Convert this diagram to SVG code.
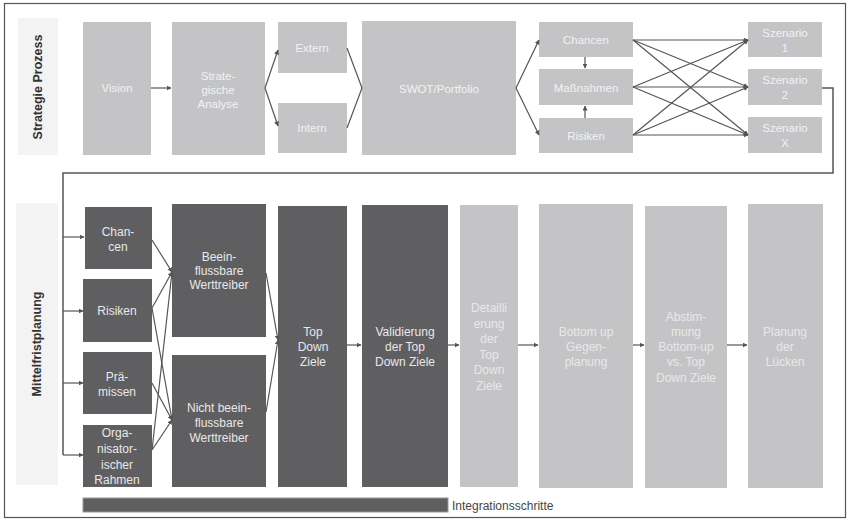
<svg xmlns="http://www.w3.org/2000/svg" width="849" height="521" viewBox="0 0 849 521">
<defs>
<marker id="ah" viewBox="0 0 10 10" refX="9" refY="5" markerWidth="5" markerHeight="5" orient="auto" markerUnits="userSpaceOnUse">
<path d="M0,0 L10,5 L0,10 z" fill="#555"/>
</marker>
</defs>
<style>
.lab{fill:#f3f3f3}
.lt{fill:#c4c4c6}
.dk{fill:#5f5f61}
text{font-family:"Liberation Sans",Arial,sans-serif;text-anchor:middle}
.tl{fill:#f2f2f2;font-size:11.5px}
.td{fill:#e8e8e8;font-size:12px}
.tlab{fill:#333;font-size:12.5px;font-weight:bold}
.c{fill:none;stroke:#555;stroke-width:1.2}
.ca{fill:none;stroke:#555;stroke-width:1.2;marker-end:url(#ah)}
.loop{fill:none;stroke:#555;stroke-width:1.5}
</style>
<rect x="0" y="0" width="849" height="521" fill="#fff"/>
<rect x="4.5" y="3.5" width="841" height="514" fill="none" stroke="#555" stroke-width="1.2"/>

<g id="label-strategie"><rect class="lab" x="18" y="18" width="40" height="137"/><text class="tlab" transform="translate(42,87) rotate(-90)">Strategie Prozess</text></g>
<g id="vision"><rect class="lt" x="83" y="22" width="68" height="133"/><text class="tl" x="117" y="92">Vision</text></g>
<g id="analyse"><rect class="lt" x="172" y="22" width="93" height="133"/><text class="tl" x="218" y="80">Strate-</text><text class="tl" x="218" y="94">gische</text><text class="tl" x="218" y="108">Analyse</text></g>
<g id="extern"><rect class="lt" x="278" y="22" width="69" height="51"/><text class="tl" x="312" y="52">Extern</text></g>
<g id="intern"><rect class="lt" x="278" y="103" width="69" height="50"/><text class="tl" x="312" y="132">Intern</text></g>
<g id="swot"><rect class="lt" x="362" y="21" width="154" height="134"/><text class="tl" x="439" y="93">SWOT/Portfolio</text></g>
<g id="chancen-top"><rect class="lt" x="539" y="22" width="94" height="35"/><text class="tl" x="586" y="44">Chancen</text></g>
<g id="massnahmen"><rect class="lt" x="539" y="69" width="94" height="36"/><text class="tl" x="586" y="92">Maßnahmen</text></g>
<g id="risiken-top"><rect class="lt" x="539" y="118" width="94" height="35"/><text class="tl" x="586" y="140">Risiken</text></g>
<g id="szenario1"><rect class="lt" x="748" y="22" width="74" height="35"/><text class="tl" x="785" y="37">Szenario</text><text class="tl" x="785" y="52">1</text></g>
<g id="szenario2"><rect class="lt" x="748" y="69" width="74" height="36"/><text class="tl" x="785" y="84">Szenario</text><text class="tl" x="785" y="99">2</text></g>
<g id="szenarioX"><rect class="lt" x="748" y="117" width="74" height="36"/><text class="tl" x="785" y="132">Szenario</text><text class="tl" x="785" y="147">X</text></g>

<g id="label-mittelfrist"><rect class="lab" x="16" y="203" width="42" height="282"/><text class="tlab" transform="translate(41,344) rotate(-90)">Mittelfristplanung</text></g>
<g id="chancen"><rect class="dk" x="85" y="207" width="67" height="62"/><text class="td" x="118" y="236">Chan-</text><text class="td" x="118" y="251">cen</text></g>
<g id="risiken"><rect class="dk" x="83" y="279" width="69" height="63"/><text class="td" x="117" y="315">Risiken</text></g>
<g id="praemissen"><rect class="dk" x="83" y="352" width="69" height="62"/><text class="td" x="117" y="381">Prä-</text><text class="td" x="117" y="396">missen</text></g>
<g id="organisatorisch"><rect class="dk" x="83" y="425" width="69" height="62"/><text class="td" x="117" y="437">Orga-</text><text class="td" x="117" y="453">nisator-</text><text class="td" x="117" y="469">ischer</text><text class="td" x="117" y="484">Rahmen</text></g>
<g id="beeinflussbar"><rect class="dk" x="172" y="204" width="94" height="133"/><text class="td" x="219" y="261">Beein-</text><text class="td" x="219" y="275">flussbare</text><text class="td" x="219" y="289">Werttreiber</text></g>
<g id="nicht-beeinflussbar"><rect class="dk" x="172" y="355" width="94" height="132"/><text class="td" x="219" y="412">Nicht beein-</text><text class="td" x="219" y="427">flussbare</text><text class="td" x="219" y="442">Werttreiber</text></g>
<g id="topdown"><rect class="dk" x="278" y="206" width="69" height="281"/><text class="td" x="313" y="336">Top</text><text class="td" x="313" y="351">Down</text><text class="td" x="313" y="366">Ziele</text></g>
<g id="validierung"><rect class="dk" x="362" y="205" width="86" height="282"/><text class="td" x="405" y="336">Validierung</text><text class="td" x="405" y="351">der Top</text><text class="td" x="405" y="366">Down Ziele</text></g>
<g id="detaillierung"><rect class="lt" x="460" y="205" width="58" height="282"/><text class="td" x="489" y="312" fill="#f2f2f2">Detailli</text><text class="td" x="489" y="327.5">erung</text><text class="td" x="489" y="343">der</text><text class="td" x="489" y="358.5">Top</text><text class="td" x="489" y="374">Down</text><text class="td" x="489" y="389.5">Ziele</text></g>
<g id="bottomup"><rect class="lt" x="539" y="204" width="94" height="284"/><text class="td" x="586" y="336">Bottom up</text><text class="td" x="586" y="351">Gegen-</text><text class="td" x="586" y="366">planung</text></g>
<g id="abstimmung"><rect class="lt" x="645" y="206" width="82" height="282"/><text class="td" x="686" y="321">Abstim-</text><text class="td" x="686" y="336">mung</text><text class="td" x="686" y="351">Bottom-up</text><text class="td" x="686" y="366">vs. Top</text><text class="td" x="686" y="382">Down Ziele</text></g>
<g id="luecken"><rect class="lt" x="748" y="204" width="75" height="284"/><text class="td" x="785" y="336">Planung</text><text class="td" x="785" y="351">der</text><text class="td" x="785" y="366">Lücken</text></g>

<g id="integration"><rect x="83" y="498" width="365" height="14" fill="#5f5f61" stroke="#999" stroke-width="1"/><text x="452" y="510" style="text-anchor:start;fill:#444;font-size:12px">Integrationsschritte</text></g>

<g id="connectors">
<path class="ca" d="M151,88 H171"/>
<path class="ca" d="M265,88 L278,50"/>
<path class="ca" d="M265,88 L278,126"/>
<path class="c" d="M347,48 L362,88 L347,128"/>
<path class="ca" d="M516,88 L539,40"/>
<path class="ca" d="M516,88 L539,135"/>
<path class="ca" d="M585,57 V68"/>
<path class="ca" d="M585,118 V106"/>
<path class="ca" d="M633,40 L748,40"/>
<path class="ca" d="M633,40 L748,87"/>
<path class="ca" d="M633,40 L748,135"/>
<path class="ca" d="M633,87 L748,40"/>
<path class="ca" d="M633,87 L748,87"/>
<path class="ca" d="M633,87 L748,135"/>
<path class="ca" d="M633,135 L748,40"/>
<path class="ca" d="M633,135 L748,87"/>
<path class="ca" d="M633,135 L748,135"/>
<path class="loop" d="M822,88 H833 V173 H63 V455"/>
<path class="ca" d="M63,237 H84"/>
<path class="ca" d="M63,311 H83"/>
<path class="ca" d="M63,383 H83"/>
<path class="ca" d="M63,455 H83"/>
<path class="ca" d="M152,240 L172,272"/>
<path class="ca" d="M152,308 L172,272"/>
<path class="ca" d="M152,308 L172,420"/>
<path class="ca" d="M152,383 L172,420"/>
<path class="ca" d="M152,450 L172,420"/>
<path class="ca" d="M152,450 L172,272"/>
<path class="ca" d="M266,273 L278,340"/>
<path class="ca" d="M266,412 L278,340"/>
<path class="ca" d="M347,345 H361"/>
<path class="ca" d="M448,345 H459"/>
<path class="ca" d="M518,345 H538"/>
<path class="ca" d="M633,345 H644"/>
<path class="ca" d="M727,345 H747"/>
</g>
</svg>
